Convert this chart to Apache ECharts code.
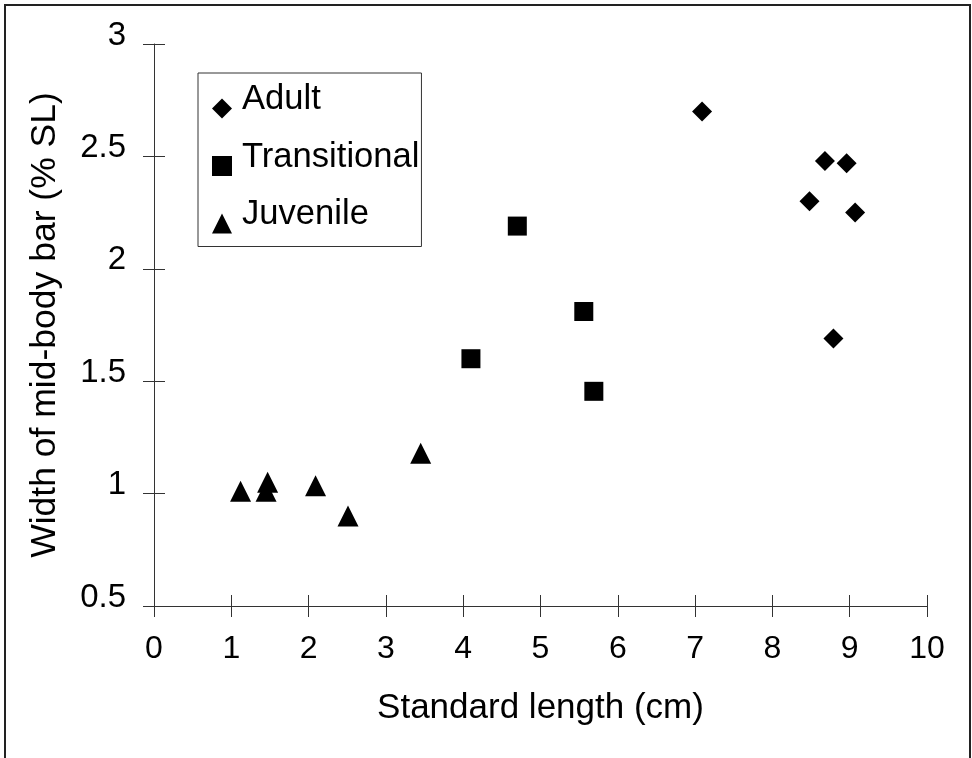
<!DOCTYPE html>
<html>
<head>
<meta charset="utf-8">
<script src="https://cdn.jsdelivr.net/npm/echarts@6/dist/echarts.min.js"></script>
<style>
  html, body { margin: 0; padding: 0; background: #fff; }
  #chart { width: 972px; height: 758px; }
</style>
</head>
<body>
<div id="chart"></div>
<script>
// values: [standard length (cm), width of mid-body bar (% SL)]
const adult = [[7.09, 2.70], [8.48, 2.30], [8.68, 2.48], [8.96, 2.47], [9.07, 2.25], [8.79, 1.69]];
const transitional = [[4.10, 1.60], [4.70, 2.19], [5.56, 1.81], [5.69, 1.455]];
const juvenile = [[1.12, 1.01], [1.45, 1.01], [1.47, 1.05], [2.09, 1.035], [2.51, 0.90], [3.45, 1.18]];

const xTitle = "Standard length (cm)";
const yTitle = "Width of mid-body bar (% SL)";

const font = "Liberation Sans, Arial, sans-serif";
const axisColor = "#333";

const myChart = echarts.init(document.getElementById("chart"));

const option = {
  backgroundColor: "#fff",
  animation: false,
  graphic: [
    {
      type: "rect",
      shape: { x: 5, y: 5, width: 965, height: 760 },
      style: { fill: "none", stroke: "#222", lineWidth: 2 }
    }
  ],
  legend: {
    orient: "vertical",
    left: 198,
    top: 73,
    padding: [9, 2, 13, 14],
    itemWidth: 20,
    itemHeight: 20,
    itemGap: 21,
    borderColor: axisColor,
    borderWidth: 1,
    // text sits higher than its marker, as in the reference
    formatter: name => "{t|" + name + "}",
    textStyle: {
      fontFamily: font,
      fontSize: 34.6,
      color: "#000",
      rich: {
        t: {
          fontFamily: font,
          fontSize: 34.6,
          color: "#000",
          padding: [-8, 0, 10, 5]
        }
      }
    },
    data: ["Adult", "Transitional", "Juvenile"]
  },
  grid: { left: 154, right: 45, top: 44, bottom: 152 },
  xAxis: [
    {
      type: "value",
      min: 0,
      max: 10,
      interval: 1,
      position: "bottom",
      name: xTitle,
      nameLocation: "middle",
      nameGap: 85,
      nameTextStyle: { fontFamily: font, fontSize: 35, color: "#000" },
      axisLine: { onZero: false, lineStyle: { color: axisColor, width: 1 } },
      axisTick: { show: true, length: 11, lineStyle: { color: axisColor } },
      axisLabel: { fontFamily: font, fontSize: 32, color: "#000", margin: 27 },
      splitLine: { show: false }
    },
    {
      // second copy only to draw the inner half of the crossing ticks
      type: "value",
      min: 0,
      max: 10,
      interval: 1,
      position: "bottom",
      axisLine: { show: false, onZero: false },
      axisTick: { show: true, inside: true, length: 11, lineStyle: { color: axisColor } },
      axisLabel: { show: false },
      splitLine: { show: false }
    }
  ],
  yAxis: [
    {
      type: "value",
      min: 0.5,
      max: 3,
      interval: 0.5,
      position: "left",
      name: yTitle,
      nameLocation: "middle",
      nameGap: 91,
      nameTextStyle: { fontFamily: font, fontSize: 35.5, color: "#000" },
      axisLine: { show: true, onZero: false, lineStyle: { color: axisColor, width: 1 } },
      axisTick: { show: true, length: 11, lineStyle: { color: axisColor } },
      axisLabel: {
        fontFamily: font,
        fontSize: 33,
        color: "#000",
        margin: 28,
        verticalAlign: "bottom",
        lineHeight: 17
      },
      splitLine: { show: false }
    },
    {
      type: "value",
      min: 0.5,
      max: 3,
      interval: 0.5,
      position: "left",
      axisLine: { show: false, onZero: false },
      axisTick: { show: true, inside: true, length: 11, lineStyle: { color: axisColor } },
      axisLabel: { show: false },
      splitLine: { show: false }
    }
  ],
  series: [
    {
      name: "Adult",
      type: "scatter",
      symbol: "diamond",
      symbolSize: 20,
      itemStyle: { color: "#000", opacity: 1 },
      data: adult
    },
    {
      name: "Transitional",
      type: "scatter",
      symbol: "rect",
      symbolSize: 19,
      itemStyle: { color: "#000", opacity: 1 },
      data: transitional
    },
    {
      name: "Juvenile",
      type: "scatter",
      symbol: "triangle",
      symbolSize: 21,
      itemStyle: { color: "#000", opacity: 1 },
      data: juvenile
    }
  ]
};

myChart.setOption(option);
window.addEventListener("resize", () => myChart.resize());
</script>
</body>
</html>
